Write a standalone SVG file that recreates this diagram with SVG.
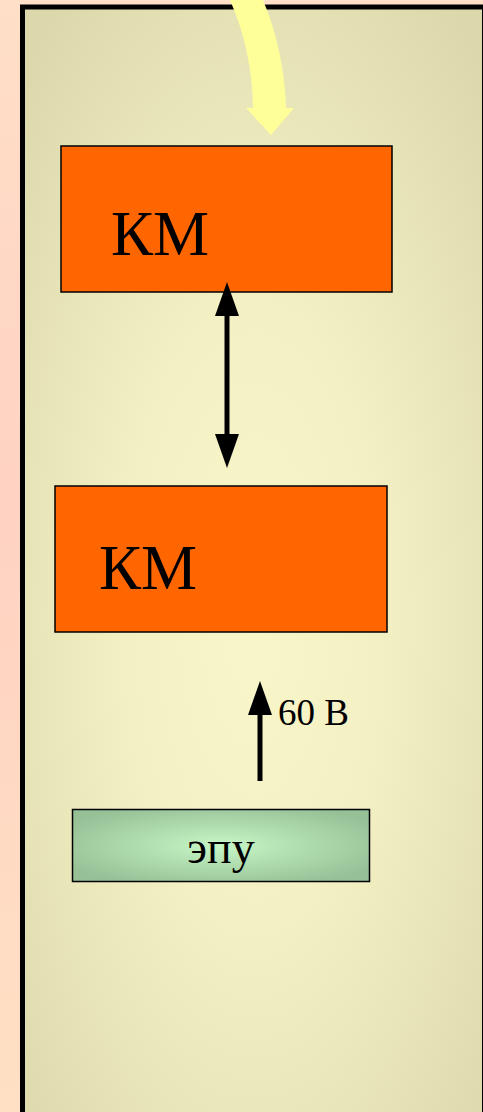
<svg xmlns="http://www.w3.org/2000/svg" width="483" height="1112" viewBox="0 0 483 1112">
<defs>
<linearGradient id="bg" x1="0" y1="0" x2="0" y2="1">
<stop offset="0" stop-color="#FFDFC8"/>
<stop offset="0.45" stop-color="#FFD2C2"/>
<stop offset="1" stop-color="#FFE0C4"/>
</linearGradient>
<radialGradient id="panel" cx="0.5" cy="0.55" r="0.7">
<stop offset="0" stop-color="#F9F7CA"/>
<stop offset="0.4" stop-color="#F3F1C3"/>
<stop offset="1" stop-color="#DCD8AC"/>
</radialGradient>
<radialGradient id="green" cx="0.5" cy="0.5" r="0.6">
<stop offset="0" stop-color="#C6F6C6"/>
<stop offset="1" stop-color="#96C096"/>
</radialGradient>
<style>
.km{fill:#FF6600;stroke:#000;stroke-width:1.5}
.t{font-family:"Liberation Serif","Times New Roman",serif;fill:#000}
.ln{stroke:#000;stroke-width:5;fill:none}
</style>
</defs>
<rect x="0" y="0" width="483" height="1112" fill="url(#bg)"/>
<g id="panel-box">
<rect x="22.5" y="7" width="462" height="1110" fill="url(#panel)" stroke="#000" stroke-width="5"/>
</g>
<g id="input-arrow">
<path d="M230,0 L263,0 Q284,50 286,108 L294,108 L271,135 L246,108 L253,108 Q252,50 230,0 Z" fill="#FFFF99"/>
</g>
<g id="km1">
<rect class="km" x="61" y="146" width="331" height="146"/>
<text class="t" x="111" y="255" font-size="63">КМ</text>
</g>
<g id="km2">
<rect class="km" x="55" y="486" width="332" height="146"/>
<text class="t" x="99" y="589" font-size="63">КМ</text>
</g>
<g id="epu">
<rect x="72.5" y="809.5" width="297" height="72" fill="url(#green)" stroke="#000" stroke-width="1.5"/>
<text class="t" x="221" y="863" font-size="46" text-anchor="middle">эпу</text>
</g>
<g id="connectors">
<path d="M227,312 L227,438" class="ln"/>
<path d="M227,282 L239,316 L215,316 Z" fill="#000"/>
<path d="M227,468 L239,434 L215,434 Z" fill="#000"/>
<path d="M260,781 L260,710" class="ln"/>
<path d="M260,681 L272,715 L248,715 Z" fill="#000"/>
<text class="t" x="278" y="725" font-size="37">60 В</text>
</g>
</svg>
